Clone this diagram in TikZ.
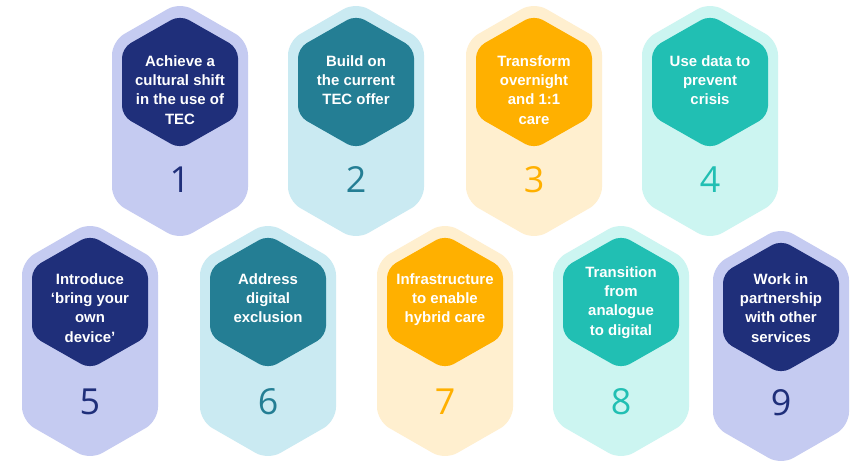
\documentclass[tikz,border=0pt]{standalone}
\usepackage{fontspec}
\setmainfont{Liberation Sans}
\newfontfamily\numfont{Open Sans}
\definecolor{lavL}{HTML}{C5CBF1}
\definecolor{navy}{HTML}{1F2F7A}
\definecolor{blueL}{HTML}{CAEAF2}
\definecolor{teal}{HTML}{247E94}
\definecolor{creamL}{HTML}{FFEFCF}
\definecolor{orng}{HTML}{FFB000}
\definecolor{mintL}{HTML}{CCF5F1}
\definecolor{turq}{HTML}{21BFB3}
\tikzset{
  lbl/.style={text=white, font=\bfseries\fontsize{15}{19.5}\selectfont, align=center, inner sep=0pt, anchor=north},
  num/.style={font=\numfont\fontsize{36}{40}\selectfont, inner sep=0pt},
  outerhex/.style={rounded corners=14bp},
  innerhex/.style={rounded corners=10bp}
}
% #1 name, #2 cx, #3 top, #4 light, #5 dark, #6 text, #7 text y, #8 number, #9 number y
\newcommand\hexcard[9]{%
  \fill[#4, outerhex] (#2,#3) -- ++(68,39) -- ++(0,160) -- ++(-68,39) -- ++(-68,-39) -- ++(0,-160) -- cycle;
  \fill[#5, innerhex] (#2,#3+13) -- ++(58,33) -- ++(0,68) -- ++(-58,33) -- ++(-58,-33) -- ++(0,-68) -- cycle;
  \node[lbl] (#1t) at (#2,#7) {#6};
  \node[num, text=#5] (#1n) at (#2,#9) {#8};
}
\begin{document}
\begin{tikzpicture}[x=1bp,y=-1bp]
\fill[white] (0,0) rectangle (858,463);
\useasboundingbox (0,0) rectangle (858,463);
\hexcard{c1}{180}{2}{lavL}{navy}{Achieve a\\cultural shift\\in the use of\\TEC}{55}{1}{180}
\hexcard{c2}{356}{2}{blueL}{teal}{Build on\\the current\\TEC offer}{55}{2}{180}
\hexcard{c3}{534}{2}{creamL}{orng}{Transform\\overnight\\and 1:1\\care}{55}{3}{180}
\hexcard{c4}{710}{2}{mintL}{turq}{Use data to\\prevent\\crisis}{55}{4}{180}
\hexcard{c5}{90}{222}{lavL}{navy}{Introduce\\`bring your\\own\\device'}{273}{5}{402}
\hexcard{c6}{268}{222}{blueL}{teal}{Address\\digital\\exclusion}{273}{6}{402}
\hexcard{c7}{445}{222}{creamL}{orng}{Infrastructure\\to enable\\hybrid care}{273}{7}{402}
\hexcard{c8}{621}{222}{mintL}{turq}{Transition\\from\\analogue\\to digital}{266}{8}{402}
\hexcard{c9}{781}{227}{lavL}{navy}{Work in\\partnership\\with other\\services}{273}{9}{403}
\end{tikzpicture}
\end{document}
